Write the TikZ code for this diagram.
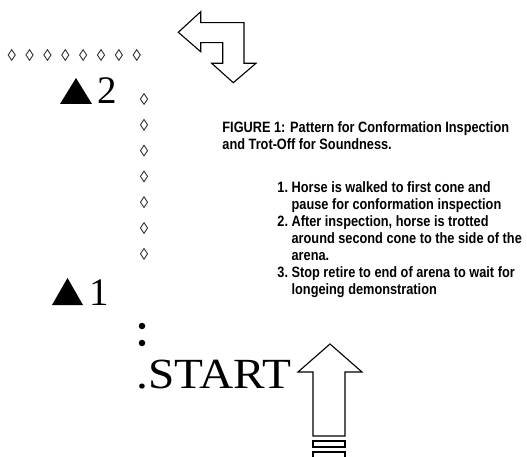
\documentclass[tikz,border=0pt]{standalone}
\usepackage{fontspec}
\setmainfont{Liberation Serif}
\newfontfamily\notefont[FakeStretch=0.85]{Liberation Sans}
\newfontfamily\widefont[FakeStretch=1.1]{Liberation Serif}
\usetikzlibrary{shapes.geometric}
\tikzset{
every picture/.style={line width=0.9pt},
cone/.style={draw=black!80, diamond, inner sep=0pt, minimum width=7.5pt, minimum height=11pt, line width=0.9pt},
marker/.style={fill=black},
numlabel/.style={inner sep=0pt, anchor=base west, font=\fontsize{39}{39}\selectfont},
startlabel/.style={inner sep=0pt, anchor=base west, font=\widefont\fontsize{43}{43}\selectfont},
note/.style={inner sep=0pt, anchor=base west, font=\notefont\bfseries\fontsize{15}{17}\selectfont},
dot/.style={circle, fill=black, inner sep=0pt, minimum size=6.5pt},
bigarrow/.style={draw=black, line width=1.1pt, line join=miter}
}

\begin{document}
\begin{tikzpicture}[x=1pt,y=-1pt]
    \useasboundingbox (0,0) rectangle (527,457);
    \foreach \i in {0,...,7} {
      \node[cone] (t\i) at ({11.7+17.86*\i},55) {};
    }
    \foreach \i in {0,...,6} {
      \node[cone] (v\i) at (144,{99+25.8*\i}) {};
    }
    \fill[marker] (60,104) -- (92,104) -- (76,78) -- cycle;
    \node[numlabel] (two) at (97,104) {2};
    \fill[marker] (52,305) -- (83,305) -- (67.5,278) -- cycle;
    \node[numlabel] (one) at (89,305) {1};
    \node[dot] (d1) at (142,326) {};
    \node[dot] (d2) at (142,343) {};
    \node[startlabel] (start) at (136,388) {.START};
    \draw[bigarrow] (178.3,32.3) -- (200.7,11.7) -- (200.7,22.7) -- (244,22.7) -- (244,63.3)
      -- (256,63.3) -- (233.3,82.7) -- (211.7,63.3) -- (222.7,63.3) -- (222.7,42.7)
      -- (200.7,42.7) -- (200.7,51.7) -- cycle;
    \draw[bigarrow] (330,344) -- (362,372) -- (345,372) -- (345,436) -- (313,436) -- (313,372) -- (298,372) -- cycle;
    \draw[bigarrow] (313,441) rectangle (345,447);
    \draw[bigarrow] (313,452) rectangle (345,462);
    \node[note] (title) at (222,133) {\begin{tabular}[t]{@{}l@{}}FIGURE 1: Pattern for Conformation Inspection\\
      and Trot-Off for Soundness.\end{tabular}};
    \node[note] (steps) at (277,193) {\begin{tabular}[t]{@{}l@{\ }l@{}}1.&Horse is walked to first cone and\\
      &pause for conformation inspection\\
      2.&After inspection, horse is trotted\\
      &around second cone to the side of the\\
      &arena.\\
      3.&Stop retire to end of arena to wait for\\
      &longeing demonstration\end{tabular}};
  \end{tikzpicture}
\end{document}
